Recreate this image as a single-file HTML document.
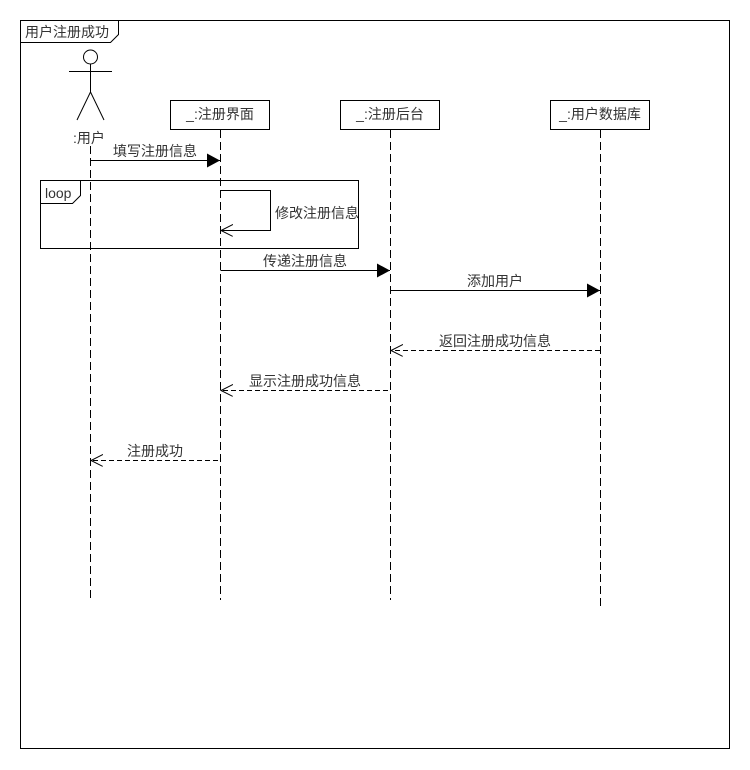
<!DOCTYPE html>
<html><head><meta charset="utf-8"><style>
html,body{margin:0;padding:0;background:#fff;}
svg{display:block;}
text{font-family:"Liberation Sans","Noto Sans CJK SC",sans-serif;font-size:14px;fill:#333;}
</style></head><body>
<svg width="750" height="770" viewBox="0 0 750 770" xmlns="http://www.w3.org/2000/svg">
<defs>
<marker id="fa" markerWidth="14" markerHeight="14" refX="13" refY="7" orient="auto" markerUnits="userSpaceOnUse"><path d="M0,0 L13,7 L0,14 z" fill="#000"/></marker>
<marker id="oa" markerWidth="14" markerHeight="14" refX="12" refY="6" orient="auto" markerUnits="userSpaceOnUse"><path d="M0,0 L12,6 L0,12" fill="none" stroke="#000"/></marker>
</defs>
<g stroke="#000" fill="none" stroke-width="1">
<rect x="20.5" y="20.5" width="709" height="728"/>
<path d="M20.5,42.5 H110.5 L118.5,34.5 V20.5"/>
<circle cx="90.5" cy="57" r="7"/>
<path d="M69,71.5 H112 M90.5,64 V92 L77,120 M90.5,92 L104,120"/>
<rect x="170.5" y="100.5" width="99" height="29"/>
<rect x="340.5" y="100.5" width="99" height="29"/>
<rect x="550.5" y="100.5" width="99" height="29"/>
<g stroke-dasharray="8,4">
<path d="M90.5,146 V600 M220.5,130 V600 M390.5,130 V600 M600.5,130 V606"/>
</g>
<rect x="40.5" y="180.5" width="318" height="68"/>
<path d="M40.5,203.5 H72.5 L80.5,195.5 V180.5"/>
<path d="M90.5,160.5 H220" marker-end="url(#fa)"/>
<path d="M220.5,190.5 H270.5 V230.5 H221" marker-end="url(#oa)"/>
<path d="M220.5,270.5 H390" marker-end="url(#fa)"/>
<path d="M390.5,290.5 H600" marker-end="url(#fa)"/>
<g stroke-dasharray="5,3">
<path d="M600,350.5 H391" marker-end="url(#oa)"/>
<path d="M388,390.5 H221" marker-end="url(#oa)"/>
<path d="M218,460.5 H91" marker-end="url(#oa)"/>
</g>
</g>
<text x="25" y="37">用户注册成功</text>
<text x="89" y="143" text-anchor="middle">:用户</text>
<text x="220" y="119" text-anchor="middle">_:注册界面</text>
<text x="390" y="119" text-anchor="middle">_:注册后台</text>
<text x="600" y="119" text-anchor="middle">_:用户数据库</text>
<text x="45" y="198">loop</text>
<text x="155" y="156" text-anchor="middle">填写注册信息</text>
<text x="275" y="218">修改注册信息</text>
<text x="305" y="266" text-anchor="middle">传递注册信息</text>
<text x="495" y="286" text-anchor="middle">添加用户</text>
<text x="495" y="346" text-anchor="middle">返回注册成功信息</text>
<text x="305" y="386" text-anchor="middle">显示注册成功信息</text>
<text x="155" y="456" text-anchor="middle">注册成功</text>
</svg>
</body></html>
